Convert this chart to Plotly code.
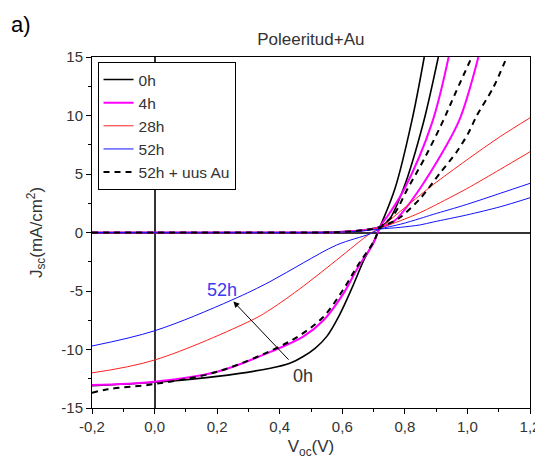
import plotly.graph_objects as go

# ---------------- data ----------------
legend_names = ["0h", "4h", "28h", "52h", "52h + uus Au"]

# illuminated J-V curves
v_0h_light = [-0.2, 0.0, 0.2, 0.37, 0.43, 0.475, 0.513, 0.55, 0.59, 0.63, 0.67, 0.70, 0.721, 0.769, 0.822, 0.862]
j_0h_light = [-13.1, -12.8, -12.3, -11.6, -11.2, -10.6, -9.9, -8.9, -7.1, -4.8, -2.3, -0.8, 0.5, 3.8, 9.5, 15.0]

v_4h_light = [-0.2, 0.0, 0.2, 0.37, 0.475, 0.54, 0.604, 0.652, 0.70, 0.721, 0.75, 0.80, 0.886, 0.94]
j_4h_light = [-13.03, -12.75, -11.9, -10.2, -8.9, -7.5, -5.2, -2.9, -0.9, 0.5, 1.6, 3.8, 9.3, 15.0]

v_28h_light = [-0.2, 0.0, 0.31, 0.369, 0.475, 0.582, 0.69, 0.721, 0.785, 0.849, 0.891, 0.998, 1.105, 1.2]
j_28h_light = [-12.0, -10.9, -7.5, -6.6, -4.6, -2.35, -0.07, 0.4, 1.8, 3.2, 4.1, 6.2, 8.2, 9.8]

v_52h_light = [-0.2, 0.0, 0.247, 0.369, 0.475, 0.582, 0.69, 0.721, 0.785, 0.849, 0.891, 0.998, 1.105, 1.2]
j_52h_light = [-9.7, -8.4, -5.77, -4.2, -2.6, -1.07, -0.1, 0.3, 0.7, 1.2, 1.55, 2.4, 3.35, 4.2]

v_52hAu_light = [-0.2, -0.15, 0.0, 0.2, 0.396, 0.475, 0.54, 0.60, 0.65, 0.70, 0.721, 0.764, 0.81, 0.86, 0.918, 0.963, 1.014]
j_52hAu_light = [-13.7, -13.4, -12.95, -11.9, -9.8, -8.6, -7.2, -5.0, -2.8, -0.8, 0.4, 1.5, 3.8, 6.2, 9.3, 12.0, 15.0]

# dark J-V curves
v_0h_dark = [-0.2, 0.5, 0.58, 0.64, 0.69, 0.72, 0.75, 0.796, 0.86, 0.907]
j_0h_dark = [0.0, 0.0, 0.03, 0.12, 0.3, 0.5, 1.1, 3.78, 9.47, 15.0]

v_4h_dark = [-0.2, 0.5, 0.58, 0.64, 0.69, 0.72, 0.764, 0.849, 0.972, 1.035]
j_4h_dark = [0.0, 0.0, 0.03, 0.12, 0.28, 0.45, 0.93, 3.78, 9.47, 15.0]

v_28h_dark = [-0.2, 0.5, 0.6, 0.66, 0.72, 0.785, 0.849, 0.891, 0.998, 1.105, 1.2]
j_28h_dark = [0.0, 0.0, 0.05, 0.15, 0.4, 1.0, 1.7, 2.25, 3.75, 5.4, 6.9]

v_52h_dark = [-0.2, 0.5, 0.6, 0.66, 0.72, 0.785, 0.849, 0.891, 0.998, 1.105, 1.2]
j_52h_dark = [0.0, 0.0, 0.04, 0.12, 0.3, 0.44, 0.65, 0.9, 1.5, 2.2, 2.97]

v_52hAu_dark = [-0.2, 0.5, 0.58, 0.64, 0.69, 0.72, 0.78, 0.849, 0.913, 0.966, 1.003, 1.03, 1.083, 1.126]
j_52hAu_dark = [0.0, 0.0, 0.03, 0.12, 0.28, 0.45, 1.2, 2.9, 5.1, 6.9, 8.5, 10.0, 12.4, 15.0]

x_tickvals = [-0.2, 0.0, 0.2, 0.4, 0.6, 0.8, 1.0, 1.2]
x_ticktext = ["-0,2", "0,0", "0,2", "0,4", "0,6", "0,8", "1,0", "1,2"]
y_tickvals = [-15, -10, -5, 0, 5, 10, 15]
y_ticktext = ["-15", "-10", "-5", "0", "5", "10", "15"]

# ---------------- styling ----------------
FONT = "Liberation Sans, Arial, sans-serif"
TXT = "#333333"

series = [
    (legend_names[0], v_0h_light, j_0h_light, v_0h_dark, j_0h_dark, "#000000", 1.6, "solid"),
    (legend_names[1], v_4h_light, j_4h_light, v_4h_dark, j_4h_dark, "#ff00ff", 2.0, "solid"),
    (legend_names[2], v_28h_light, j_28h_light, v_28h_dark, j_28h_dark, "#ff2020", 1.0, "solid"),
    (legend_names[3], v_52h_light, j_52h_light, v_52h_dark, j_52h_dark, "#1010ff", 1.0, "solid"),
    (legend_names[4], v_52hAu_light, j_52hAu_light, v_52hAu_dark, j_52hAu_dark, "#000000", 2.0, "6px,5px"),
]

fig = go.Figure()
for name, vl, jl, vd, jd, col, w, dash in series:
    fig.add_trace(go.Scatter(x=vl, y=jl, mode="lines", name=name, legendgroup=name,
                             line=dict(color=col, width=w, dash=dash, shape="spline", smoothing=1.0),
                             showlegend=True))
    fig.add_trace(go.Scatter(x=vd, y=jd, mode="lines", name=name, legendgroup=name,
                             line=dict(color=col, width=w, dash=dash, shape="spline", smoothing=0.8),
                             showlegend=False))

axis_common = dict(
    automargin=False,
    showgrid=False, showline=True, linecolor="#000000", linewidth=1, mirror=True,
    ticks="outside", ticklen=5, tickcolor="#000000", tickwidth=1,
    tickfont=dict(family=FONT, size=15, color=TXT),
    zeroline=True, zerolinecolor="#333333", zerolinewidth=1.5,
)

# the page body adds an 8 px offset, so the figure is 8 px smaller on the left/top
fig.update_layout(
    width=535, height=456,
    margin=dict(l=84, r=13, t=49, b=56, autoexpand=False),
    paper_bgcolor="white", plot_bgcolor="white",
    font=dict(family=FONT, color=TXT),
    title=dict(text="Poleeritud+Au", x=0.566, xanchor="center", y=0.932, yanchor="middle",
               font=dict(family=FONT, size=17, color=TXT), automargin=False),
    xaxis=dict(range=[-0.2, 1.2], tickvals=x_tickvals, ticktext=x_ticktext,
               minor=dict(dtick=0.1, tick0=0, ticks="outside", ticklen=3, tickcolor="#000000"),
               title=dict(text="V<sub>oc</sub>(V)", font=dict(family=FONT, size=17, color=TXT), standoff=6),
               **axis_common),
    yaxis=dict(range=[-15, 15], tickvals=y_tickvals, ticktext=y_ticktext,
               minor=dict(dtick=2.5, tick0=0, ticks="outside", ticklen=3, tickcolor="#000000"),
               title=dict(text="J<sub>sc</sub>(mA/cm<sup>2</sup>)", font=dict(family=FONT, size=17, color=TXT), standoff=14),
               **axis_common),
    legend=dict(x=0.0126, y=0.986, xanchor="left", yanchor="top",
                bordercolor="#000000", borderwidth=1, bgcolor="white",
                font=dict(family=FONT, size=15.5, color=TXT), tracegroupgap=0),
    showlegend=True,
)

fig.add_annotation(x=0.252, y=-5.9, ax=0.433, ay=-11.0, xref="x", yref="y", axref="x", ayref="y",
                   text="", showarrow=True, arrowhead=2, arrowsize=1.2, arrowwidth=1, arrowcolor="#000000")
fig.add_annotation(x=0.216, y=-4.9, xref="x", yref="y", text="52h", showarrow=False,
                   font=dict(family=FONT, size=18, color="#3a3af0"))
fig.add_annotation(x=0.475, y=-12.3, xref="x", yref="y", text="0h", showarrow=False,
                   font=dict(family=FONT, size=18, color=TXT))
fig.add_annotation(x=-0.19, y=1.094, xref="paper", yref="paper", text="a)", showarrow=False,
                   xanchor="left", yanchor="middle", font=dict(family=FONT, size=22, color="#000000"))

fig.write_html("out.html")
